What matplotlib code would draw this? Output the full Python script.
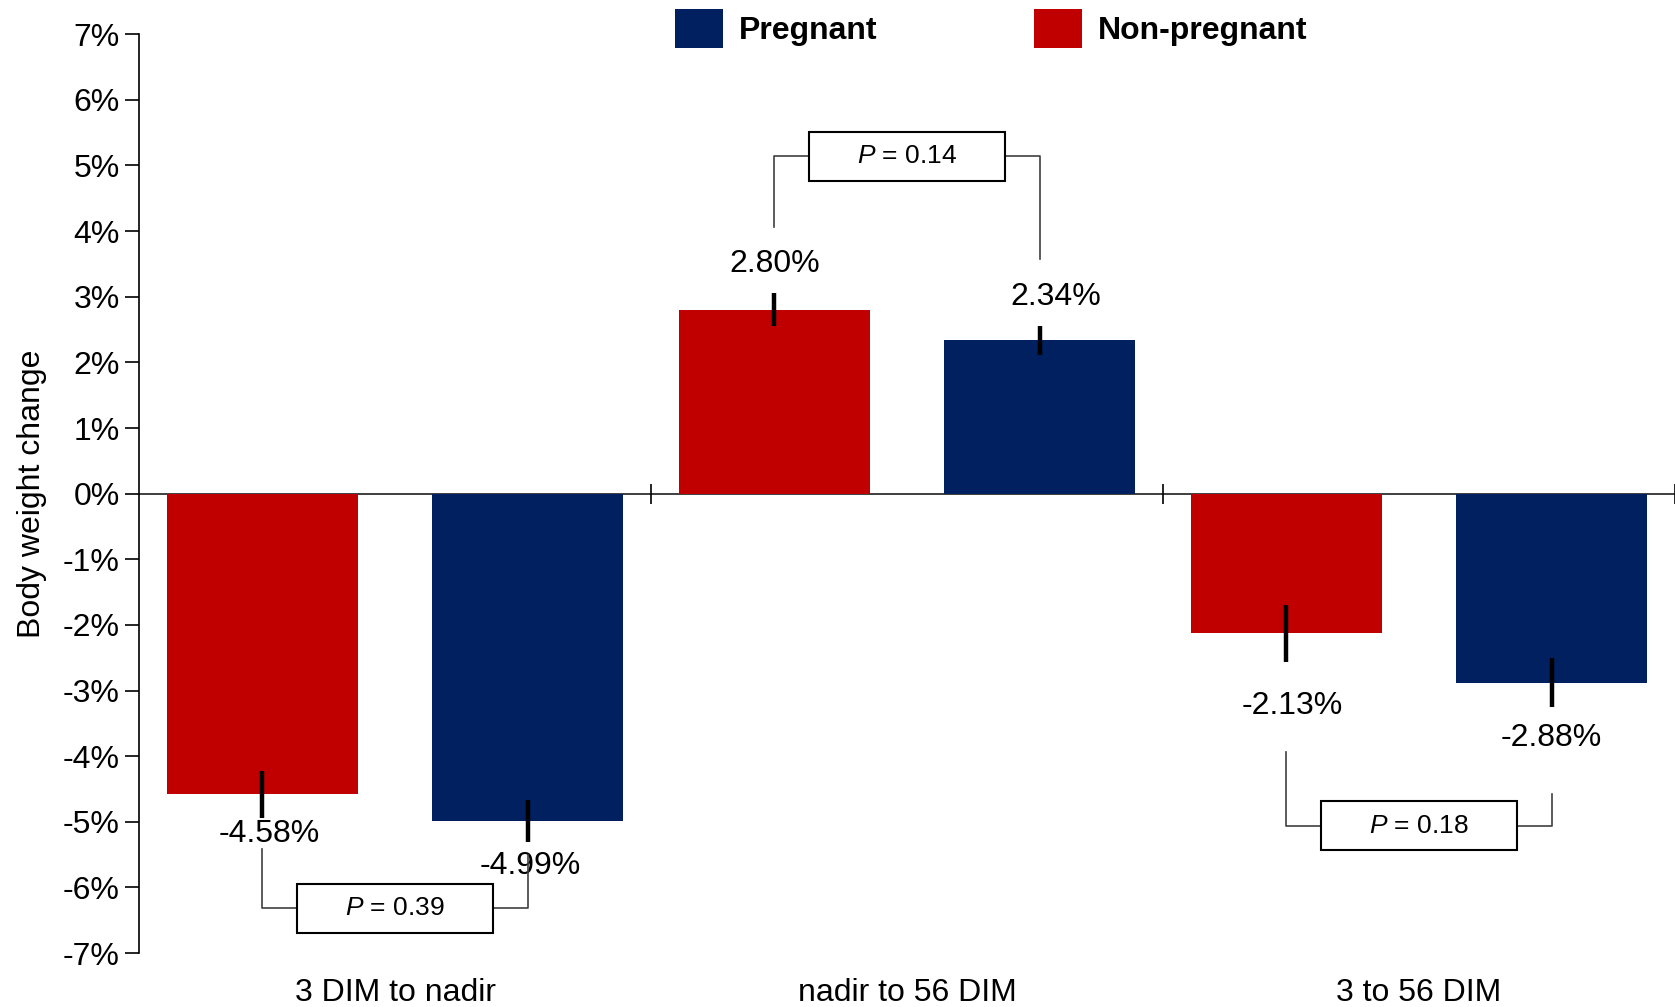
import numpy as np
import matplotlib
matplotlib.use('Agg')
import matplotlib.pyplot as plt
from matplotlib.patches import Rectangle, Patch

plt.rcParams['font.family'] = ['Liberation Sans', 'DejaVu Sans']
plt.rcParams['mathtext.fontset'] = 'custom'
plt.rcParams['mathtext.rm'] = 'Liberation Sans'
plt.rcParams['mathtext.it'] = 'Liberation Sans:italic'

periods = ['3 DIM to nadir', 'nadir to 56 DIM', '3 to 56 DIM']
non_pregnant = [-4.58, 2.80, -2.13]
pregnant = [-4.99, 2.34, -2.88]
err_non_pregnant = [0.36, 0.25, 0.43]
err_pregnant = [0.32, 0.22, 0.37]
p_values = ['0.39', '0.14', '0.18']

# where the value labels sit (in %), and the P-value brackets
label_y_np = [-5.18, 3.50, -3.24]
label_y_p = [-5.67, 3.00, -3.73]
label_dx_np = [0.014, 0.0, 0.012]
label_dx_p = [0.006, 0.031, 0.0]
box_y = [-6.32, 5.14, -5.06]
leg_start_np = [-5.42, 4.07, -3.93]
leg_start_p = [-5.50, 3.57, -4.58]

red = '#C00000'
navy = '#002060'

x = np.arange(len(periods)) + 0.5
offset = 0.259
width = 0.372
fs = 23

fig = plt.figure(figsize=(16.75, 10.07), dpi=100)
ax = fig.add_axes([0.083, 0.0536, 0.917, 0.9124])

ax.bar(x - offset, non_pregnant, width, color=red, zorder=2)
ax.bar(x + offset, pregnant, width, color=navy, zorder=2)
ax.errorbar(x - offset, non_pregnant, yerr=err_non_pregnant, fmt='none',
            ecolor='black', elinewidth=3.2, capsize=0, zorder=3)
ax.errorbar(x + offset, pregnant, yerr=err_pregnant, fmt='none',
            ecolor='black', elinewidth=3.2, capsize=0, zorder=3)

for i in range(len(periods)):
    ax.text(x[i] - offset + label_dx_np[i], label_y_np[i], f'{non_pregnant[i]:.2f}%',
            ha='center', va='center', fontsize=fs)
    ax.text(x[i] + offset + label_dx_p[i], label_y_p[i], f'{pregnant[i]:.2f}%',
            ha='center', va='center', fontsize=fs)

    # bracket with P-value box
    bw, bh = 0.384, 0.75
    xl, xr = x[i] - offset, x[i] + offset
    ax.plot([xl, xl, x[i] - bw / 2], [leg_start_np[i], box_y[i], box_y[i]],
            color='#404040', lw=1.2, zorder=3)
    ax.plot([xr, xr, x[i] + bw / 2], [leg_start_p[i], box_y[i], box_y[i]],
            color='#404040', lw=1.2, zorder=3)
    ax.add_patch(Rectangle((x[i] - bw / 2, box_y[i] - bh / 2), bw, bh,
                           facecolor='white', edgecolor='black', lw=1.5, zorder=4))
    ax.text(x[i], box_y[i], f'$P$ = {p_values[i]}', ha='center', va='center',
            fontsize=19, zorder=5)

ax.axhline(0, color='#303030', lw=1.3, zorder=1)
ax.plot(np.arange(1, len(periods) + 1), [0] * len(periods), ls='none',
        marker='|', markersize=15, markeredgewidth=1.2, color='black', zorder=1)

ax.set_xlim(0, 3)
ax.set_ylim(-7, 7)
ax.set_yticks(range(-7, 8))
ax.set_yticklabels([f'{v}%' for v in range(-7, 8)], fontsize=fs)
ax.set_xticks(x)
ax.set_xticklabels(periods, fontsize=fs)
ax.tick_params(axis='x', length=0, pad=18)
ax.tick_params(axis='y', length=10, width=1.2, pad=4, direction='out')
for side in ['top', 'right', 'bottom']:
    ax.spines[side].set_visible(False)
ax.spines['left'].set_linewidth(1.2)
ax.set_ylabel('Body weight change', fontsize=fs)
ax.yaxis.set_label_coords(-0.0597, 0.5)

handles = [Patch(facecolor=navy, label='Pregnant'),
           Patch(facecolor=red, label='Non-pregnant')]
fig.legend(handles=handles, loc='upper center', bbox_to_anchor=(0.592, 0.997),
           ncol=2, frameon=False, prop={'weight': 'bold', 'size': fs},
           handlelength=1.5, handleheight=1.5, handletextpad=0.5,
           columnspacing=4.9, borderaxespad=0, borderpad=0.2)

fig.savefig('out.png', dpi=100)
